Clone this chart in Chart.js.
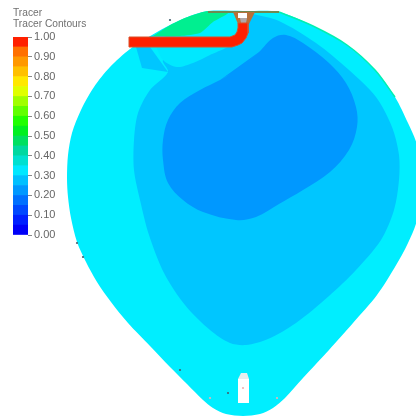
<!DOCTYPE html>
<html><head><meta charset="utf-8">
<style>
html,body{margin:0;padding:0;background:#fff;width:416px;height:417px;overflow:hidden}
#wrap{position:relative;width:416px;height:417px;filter:blur(0.7px)}
#field,#bar{position:absolute;left:0;top:0}
</style>
<script src="https://cdn.jsdelivr.net/npm/chart.js@4"></script>
</head><body>
<div id="wrap">
<canvas id="field" width="416" height="417"></canvas>
<canvas id="bar" width="100" height="250"></canvas>
</div>
<script>
// colour legend
const legendTitle = ["Tracer", "Tracer Contours"];
const bandStep = 0.05;
const bandColors = ["#0000f8","#0020ff","#0048ff","#0070ff","#0098ff","#00c0ff","#00e8ff","#00e0d0","#00d8a0","#00e060",
                    "#00f020","#20ff00","#60ff00","#a0ff00","#e0ff00","#ffe800","#ffc000","#ff9800","#ff7000","#ff2000"];

// contour regions
const outerContour = [[243,11],[208,11],[190,16],[172,24],[152,35],[130,49],[110,67],[94,87],[81,110],[72,133],[68,155],[67,178],[68,197],[71,218],[77,242],[86,262],[97,282],[111,302],[128,323],[150,346],[170,367],[187,384],[203,400],[213,408],[226,414],[243,416],[260,414],[273,408],[285,398],[303,378],[329,350],[353,323],[377,295],[395,267],[408,243],[417,220],[422,182],[417,145],[408,123],[395,97],[375,70],[347,45],[313,26],[279,12],[243,11]];
const midContour = [[253,14],[279,21],[316,43],[349,70],[376,97],[392,127],[399,155],[399,180],[394,210],[381,240],[356,270],[329,296],[296,323],[268,339],[246,345],[230,343],[210,330],[185,305],[164,273],[149,235],[140,200],[134,170],[134,140],[138,113],[150,90],[168,72],[163,60],[190,48],[232,42],[253,14]];
const upperSliver = [[155,44],[163,60],[177,67],[193,63],[210,55],[232,44],[195,42],[155,44]];
const lowerLobe = [[136,47],[142,68],[168,72],[150,47],[136,47]];
const innerContour = [[220,80],[240,68],[259,52],[273,38],[286,35],[303,43],[329,63],[346,83],[356,107],[357,127],[349,150],[330,172],[303,190],[279,204],[256,217],[236,220],[203,212],[183,200],[168,183],[163,160],[163,140],[168,120],[180,103],[200,90],[220,80],[240,68],[259,52]];
const greenZone = [[153,36],[180,36],[200,33],[213,22],[228,13],[208,11],[190,16],[172,24],[153,36]];
const greenEdge = [[279,12],[313,26],[347,45],[375,70],[395,97]];
const topWall = [[208,12],[279,12]];
const valveBody = [[233,12],[255,12],[249,24],[238,24],[233,12]];
const valveHole = [[238,13],[247,13],[247,18],[238,18],[238,13]];
const valveSeat = [[240,18],[247,18],[246,23],[241,23],[240,18]];
const pipeOutline = [[129,37],[230,37],[235,35],[237,32],[238,28],[238,23],[248,23],[248,33],[246,38],[242,43],[238,45],[232,47],[129,47],[129,37]];
const bottleBody = [[238,379],[249,379],[249,403],[238,403],[238,379]];
const bottleNeck = [[241,373],[247,373],[249,379],[238,379],[241,373]];
const specks = [[77,243],[83,257],[180,370],[228,393],[170,20]];
const paleSpecks = [[210,398],[277,398],[243,388]];

const pts = a => a.map(p => ({x:p[0], y:p[1]}));
function shape(data, color, tension, extra){
  return Object.assign({data:pts(data), showLine:true, fill:'shape', backgroundColor:color,
    borderColor:color, borderWidth:0, pointRadius:0, tension:tension}, extra||{});
}
const layers = [
  shape(outerContour,"#00eeff",0.3),
  shape(midContour,"#00c6ff",0.3),
  shape(upperSliver,"#00e8ff",0.3),
  shape(lowerLobe,"#00c6ff",0),
  shape(innerContour,"#0098ff",0.35),
  shape(greenZone,"#00ef90",0.2),
  {data:pts(greenEdge),showLine:true,fill:false,borderColor:"#00f0b0",borderWidth:1.5,pointRadius:0,tension:0.3},
  {data:pts(topWall),showLine:true,fill:false,borderColor:"#6f8a50",borderWidth:2,pointRadius:0,tension:0},
  shape(valveBody,"#b8703a",0),
  shape(valveHole,"#ffffff",0),
  shape(valveSeat,"#b0a8a8",0),
  shape(pipeOutline,"#ff2000",0,{borderColor:"#d8502a",borderWidth:1}),
  shape(bottleBody,"#ffffff",0),
  shape(bottleNeck,"#e8eeee",0),
  {data:pts(specks),showLine:false,pointRadius:1.1,pointBackgroundColor:"#446070",pointBorderWidth:0},
  {data:pts(paleSpecks),showLine:false,pointRadius:1.1,pointBackgroundColor:"#f0b0b0",pointBorderWidth:0}
];
layers.forEach((d,i)=>{d.order = layers.length - i;});

new Chart(document.getElementById('field'),{
  type:'scatter',
  data:{datasets:layers},
  options:{responsive:false,animation:false,
    layout:{padding:0,autoPadding:false},
    plugins:{legend:{display:false},tooltip:{enabled:false}},
    elements:{line:{capBezierPoints:false}},
    scales:{
      x:{type:'linear',min:0,max:416,display:false},
      y:{type:'linear',min:0,max:417,reverse:true,display:false}
    }}
});

new Chart(document.getElementById('bar'),{
  type:'bar',
  data:{labels:["Tracer"],
    datasets:bandColors.map(c=>({data:[bandStep],backgroundColor:c,borderWidth:0,barPercentage:1,categoryPercentage:1}))},
  options:{responsive:false,animation:false,
    layout:{padding:{left:13,right:0,top:8,bottom:15}},
    plugins:{legend:{display:false},tooltip:{enabled:false},
      title:{display:true,text:legendTitle,align:'start',fullSize:true,color:'#707070',
        font:{family:'"Liberation Sans"',size:10.2,weight:'normal',lineHeight:1.08},padding:{top:0,bottom:7}}},
    scales:{
      x:{stacked:true,display:false},
      y:{stacked:true,position:'right',min:0,max:1,
        afterFit(s){s.width=72;},
        border:{display:false},
        grid:{drawOnChartArea:false,tickLength:4,color:'#888'},
        ticks:{stepSize:0.1,padding:2,color:'#666',font:{family:'"Liberation Sans"',size:11},
          callback:v=>Number(v).toFixed(2)}}
    }}
});
</script>
</body></html>
